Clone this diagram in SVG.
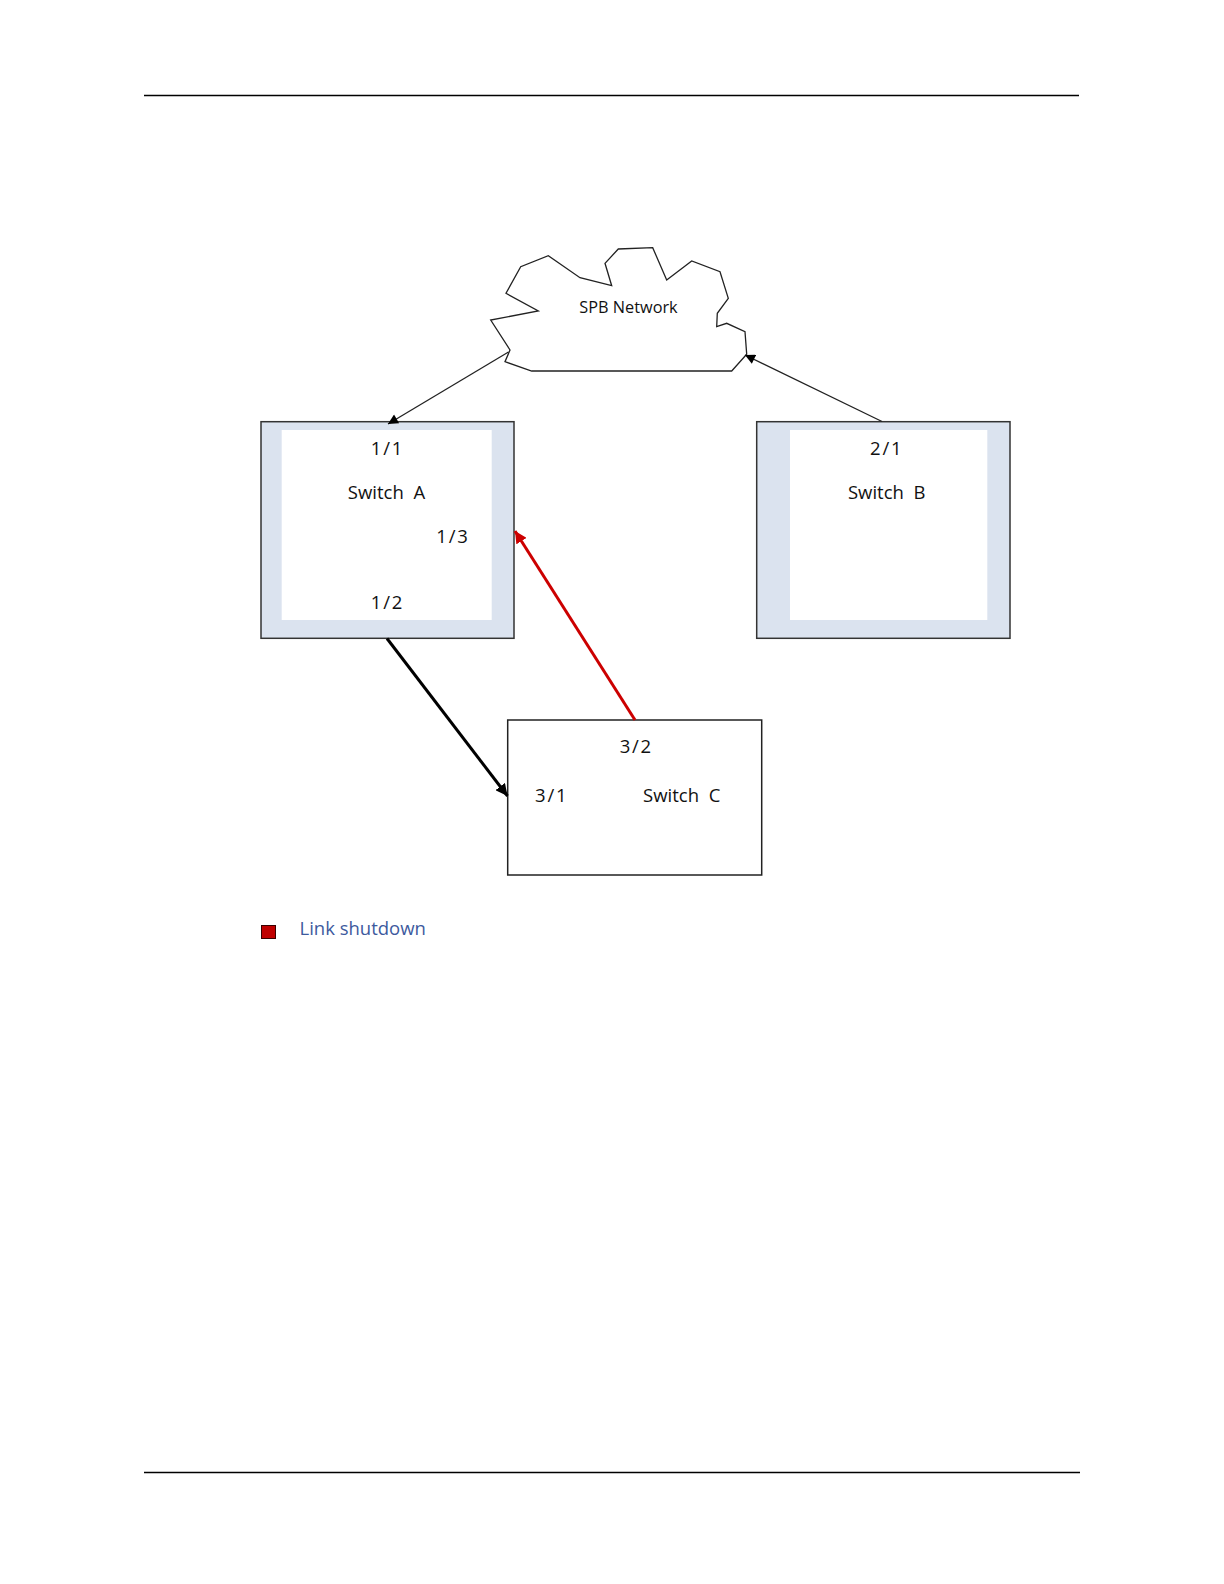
<svg xmlns="http://www.w3.org/2000/svg" width="1224" height="1584" viewBox="0 0 1224 1584">
<style>
  .t { font-family: "Open Sans", "DejaVu Sans", sans-serif; font-size: 18.5px; fill: #111; text-anchor: middle; }
  .p { letter-spacing: 1.8px; }
  .w { white-space: pre; }
  .outer { fill: #dbe3ef; stroke: #333; stroke-width: 1.5; }
  .inner { fill: #fff; stroke: none; }
  .conn { fill: none; stroke: #222; stroke-width: 1.3; }
</style>
<defs>
  <marker id="ah" viewBox="0 0 10 10" refX="10" refY="5" markerWidth="11" markerHeight="10" markerUnits="userSpaceOnUse" orient="auto">
    <path d="M0,0 L10,5 L0,10 z" fill="#000"/>
  </marker>
  <marker id="ahb" viewBox="0 0 10 10" refX="10" refY="5" markerWidth="4" markerHeight="4" orient="auto">
    <path d="M0,0 L10,5 L0,10 z" fill="#000"/>
  </marker>
  <marker id="ahr" viewBox="0 0 10 10" refX="10" refY="5" markerWidth="4" markerHeight="4" orient="auto">
    <path d="M0,0 L10,5 L0,10 z" fill="#cc0000"/>
  </marker>
</defs>
<rect width="1224" height="1584" fill="#fff"/>
<line x1="144" y1="95.5" x2="1079" y2="95.5" stroke="#000" stroke-width="1.3"/>
<line x1="144" y1="1472.5" x2="1080" y2="1472.5" stroke="#000" stroke-width="1.3"/>

<g id="cloud">
  <polygon points="531.7,371 731.7,371 746.7,354.3 745,331.7 726.7,323.3 716.7,326.7 717.3,313.3 728.3,298.3 720,271.7 691.7,261 666.7,280 652.7,247.7 618.3,249 605,263.3 611.7,285.7 580,277.7 548.3,255.7 520.7,266.7 506,293.3 538.3,311 490.7,320 510,350 505,361.7" fill="#fff" stroke="#222" stroke-width="1.3"/>
  <text x="628.5" y="312.5" class="t" style="font-size:16.3px">SPB Network</text>
</g>

<g id="switchA">
  <rect class="outer" x="261" y="421.7" width="253" height="216.6"/>
  <rect class="inner" x="281.7" y="430" width="210" height="190"/>
  <text x="387.5" y="454.5" class="t p">1/1</text>
  <text x="386.5" y="498.5" class="t w" xml:space="preserve">Switch  A</text>
  <text x="453" y="543" class="t p">1/3</text>
  <text x="387.5" y="609" class="t p">1/2</text>
</g>

<g id="switchB">
  <rect class="outer" x="756.7" y="421.7" width="253.3" height="216.6"/>
  <rect class="inner" x="790" y="430" width="197.3" height="190"/>
  <text x="886.7" y="454.5" class="t p">2/1</text>
  <text x="886.7" y="498.5" class="t w" xml:space="preserve">Switch  B</text>
</g>

<g id="switchC">
  <rect x="507.7" y="720" width="254" height="155" fill="#fff" stroke="#222" stroke-width="1.5"/>
  <text x="636.3" y="753" class="t p">3/2</text>
  <text x="551.7" y="802" class="t p">3/1</text>
  <text x="681.7" y="802" class="t w" xml:space="preserve">Switch  C</text>
</g>

<g id="connectors">
  <line class="conn" x1="508.5" y1="352" x2="388" y2="424" marker-end="url(#ah)"/>
  <line class="conn" x1="882" y1="421.5" x2="745" y2="355" marker-end="url(#ah)"/>
  <line x1="387" y1="638.5" x2="507.5" y2="796" stroke="#000" stroke-width="3" marker-end="url(#ahb)"/>
  <line x1="635" y1="720" x2="515" y2="531" stroke="#cc0000" stroke-width="3" marker-end="url(#ahr)"/>
</g>

<g id="legend">
  <rect x="261.5" y="925.5" width="14" height="13" fill="#c00000" stroke="#3a0000" stroke-width="1"/>
  <text x="299.5" y="934.5" style="font-family:'Open Sans','DejaVu Sans',sans-serif;font-size:18.5px;fill:#3d5a9e">Link shutdown</text>
</g>
</svg>
